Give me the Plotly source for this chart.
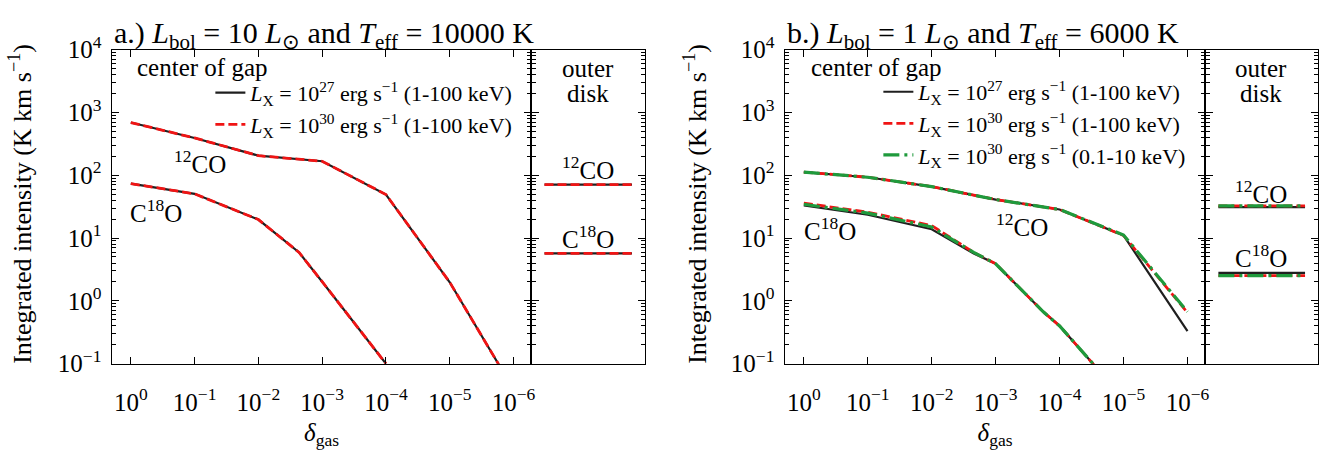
import plotly.graph_objects as go

# ---------------------------------------------------------------- data
# gas depletion factor in the gap (x) and integrated line intensity (K km/s)

# a.) Lbol = 10 Lsun, Teff = 10000 K
a_12co_delta = [1, 1e-1, 1e-2, 1e-3, 1e-4, 1e-5, 1e-6]
a_12co_lx27 = [690, 392, 205, 167, 49.4, 1.98, 0.039]
a_12co_lx30 = [690, 392, 205, 167, 49.4, 1.98, 0.039]
a_c18o_delta = [1, 1e-1, 1e-2, 2.3e-3, 1e-3, 1e-4]
a_c18o_lx27 = [73.6, 50.6, 19.7, 5.9, 2.02, 0.1]
a_c18o_lx30 = [73.6, 50.6, 19.7, 5.9, 2.02, 0.1]
a_outer_12co = [71, 71]        # Lx = 1e27, 1e30
a_outer_c18o = [5.7, 5.7]

# b.) Lbol = 1 Lsun, Teff = 6000 K
b_12co_delta = [1, 1e-1, 1e-2, 1e-3, 1e-4, 1e-5, 1e-6]
b_12co_lx27 = [112, 93, 66, 41, 28.5, 11, 0.33]
b_12co_lx30 = [112, 93, 66, 41, 28.5, 11, 0.65]
b_12co_lx30s = [112, 93, 66, 41, 28.5, 11.2, 0.67]
b_c18o_delta = [1, 1e-1, 1e-2, 2.2e-3, 1e-3, 1.8e-4, 1e-4, 1e-5]
b_c18o_lx27 = [33, 23.5, 13.8, 5.7, 3.9, 0.67, 0.40, 0.028]
b_c18o_lx30 = [36, 25.8, 15.8, 5.9, 3.9, 0.67, 0.40, 0.028]
b_c18o_lx30s = [34.5, 25, 15, 5.9, 3.9, 0.67, 0.40, 0.028]
b_outer_12co = [31, 32.5, 32.5]   # Lx = 1e27, 1e30 (1-100 keV), 1e30 (0.1-10 keV)
b_outer_c18o = [2.79, 2.52, 2.52]

x_tickvals = [1, 1e-1, 1e-2, 1e-3, 1e-4, 1e-5, 1e-6]
x_ticktext = ["10<sup>0</sup>", "10<sup>−1</sup>", "10<sup>−2</sup>", "10<sup>−3</sup>",
              "10<sup>−4</sup>", "10<sup>−5</sup>", "10<sup>−6</sup>"]
y_tickvals = [0.1, 1, 10, 100, 1000, 10000]
y_ticktext = ["10<sup>−1</sup>", "10<sup>0</sup>", "10<sup>1</sup>", "10<sup>2</sup>",
              "10<sup>3</sup>", "10<sup>4</sup>"]

legend_names = [
    "<i>L</i><sub>X</sub> = 10<sup>27</sup> erg s<sup>−1</sup> (1-100 keV)",
    "<i>L</i><sub>X</sub> = 10<sup>30</sup> erg s<sup>−1</sup> (1-100 keV)",
    "<i>L</i><sub>X</sub> = 10<sup>30</sup> erg s<sup>−1</sup> (0.1-10 keV)",
]
outer_span = [0, 1]

# ---------------------------------------------------------------- styles
FONT = "Liberation Serif"
W, H = 1337, 453
styles = [
    dict(color="#1f1f1f", width=2.2, dash="solid"),
    dict(color="#f01414", width=2.8, dash="9px,4px"),
    dict(color="#1f9a3c", width=3.2, dash="16px,5px,3px,5px"),
]

fig = go.Figure()


def add_line(x, y, style_idx, xa, ya, legend, show):
    fig.add_trace(go.Scatter(
        x=x, y=y, mode="lines", line=styles[style_idx],
        xaxis=xa, yaxis=ya, name=legend_names[style_idx],
        legend=legend, showlegend=show, hoverinfo="skip"))


# panel a
for i, (co, c18o) in enumerate([(a_12co_lx27, a_c18o_lx27), (a_12co_lx30, a_c18o_lx30)]):
    add_line(a_12co_delta, co, i, "x", "y", "legend", True)
    add_line(a_c18o_delta, c18o, i, "x", "y", "legend", False)
    add_line(outer_span, [a_outer_12co[i]] * 2, i, "x2", "y2", "legend", False)
    add_line(outer_span, [a_outer_c18o[i]] * 2, i, "x2", "y2", "legend", False)

# panel b
for i, (co, c18o) in enumerate([(b_12co_lx27, b_c18o_lx27), (b_12co_lx30, b_c18o_lx30),
                                 (b_12co_lx30s, b_c18o_lx30s)]):
    add_line(b_12co_delta, co, i, "x3", "y3", "legend2", True)
    add_line(b_c18o_delta, c18o, i, "x3", "y3", "legend2", False)
    add_line(outer_span, [b_outer_12co[i]] * 2, i, "x4", "y4", "legend2", False)
    add_line(outer_span, [b_outer_c18o[i]] * 2, i, "x4", "y4", "legend2", False)


# ---------------------------------------------------------------- axes
def px(v):
    return v / W


def py(v):
    return 1 - v / H


y_dom = [py(372), py(34)]
tickfont = dict(family=FONT, size=25, color="black")
common_line = dict(showline=True, linecolor="black", linewidth=1.4, showgrid=False,
                   zeroline=False)
minor = dict(ticks="inside", ticklen=4, tickwidth=1, tickcolor="black", dtick="D1",
             showgrid=False)


def main_x(dom, anchor):
    return dict(domain=dom, anchor=anchor, type="log", range=[0.3, -6.28],
                tickmode="array", tickvals=x_tickvals, ticktext=x_ticktext,
                ticks="inside", ticklen=7, tickwidth=1.2, tickcolor="black",
                mirror="ticks", tickfont=tickfont, ticklabelstandoff=16,
                title=dict(text="<i>δ</i><sub>gas</sub>", font=dict(family=FONT, size=25),
                           standoff=8),
                **common_line)


def main_y(anchor):
    return dict(domain=y_dom, anchor=anchor, type="log", range=[-1, 4],
                tickmode="array", tickvals=y_tickvals, ticktext=y_ticktext,
                ticks="inside", ticklen=7, tickwidth=1.2, tickcolor="black",
                mirror="ticks", tickfont=tickfont, ticklabelstandoff=4, minor=minor,
                **common_line)


def outer_x(dom, anchor):
    return dict(domain=dom, anchor=anchor, range=[-0.15, 1.15], showticklabels=False,
                ticks="", mirror=True, **common_line)


def outer_y(anchor):
    return dict(domain=y_dom, anchor=anchor, type="log", range=[-1, 4],
                tickmode="array", tickvals=y_tickvals, showticklabels=False,
                ticks="inside", ticklen=7, tickwidth=1.2, tickcolor="black",
                mirror="ticks", minor=minor, **common_line)


fig.update_layout(
    xaxis=main_x([px(112), px(533)], "y"),
    yaxis=main_y("x"),
    xaxis2=outer_x([px(533), px(647)], "y2"),
    yaxis2=outer_y("x2"),
    xaxis3=main_x([px(787), px(1209)], "y3"),
    yaxis3=main_y("x3"),
    xaxis4=outer_x([px(1209), px(1322)], "y4"),
    yaxis4=outer_y("x4"),
)

# ---------------------------------------------------------------- legends
leg_common = dict(xanchor="left", yanchor="top", bgcolor="rgba(0,0,0,0)",
                  font=dict(family=FONT, size=22, color="black"),
                  itemwidth=30, borderwidth=0)
fig.update_layout(
    legend=dict(x=px(211), y=py(58), **leg_common),
    legend2=dict(x=px(881), y=py(57), **leg_common),
)

# ---------------------------------------------------------------- text
ann = []


def text(x, y, s, size=24, xanchor="center", **kw):
    ann.append(dict(x=px(x), y=py(y), xref="paper", yref="paper", text=s, showarrow=False,
                    xanchor=xanchor, yanchor="middle",
                    font=dict(family=FONT, size=size, color="black"), **kw))


text(112, 18, "a.) <i>L</i><sub>bol</sub> = 10 <i>L</i><sub>⊙</sub> and "
              "<i>T</i><sub>eff</sub> = 10000 K", size=30, xanchor="left")
text(787, 18, "b.) <i>L</i><sub>bol</sub> = 1 <i>L</i><sub>⊙</sub> and "
              "<i>T</i><sub>eff</sub> = 6000 K", size=30, xanchor="left")

for left, outer_c in [(135, 590), (811, 1265)]:
    text(left, 53, "center of gap", xanchor="left", size=25)
    text(outer_c, 54, "outer", size=25)
    text(outer_c, 81, "disk", size=25)

text(201, 155, "<sup>12</sup>CO", size=25)
text(156, 208, "C<sup>18</sup>O", size=25)
text(590, 161, "<sup>12</sup>CO", size=25)
text(590, 236, "C<sup>18</sup>O", size=25)
text(832, 227, "C<sup>18</sup>O", size=25)
text(1025, 223, "<sup>12</sup>CO", size=25)
text(1265, 187, "<sup>12</sup>CO", size=25)
text(1265, 256, "C<sup>18</sup>O", size=25)

for xc in (21, 698):
    text(xc, 200, "Integrated intensity (K km s<sup>−1</sup>)", size=26, textangle=-90)

fig.update_layout(
    annotations=ann,
    width=W, height=H,
    margin=dict(l=0, r=0, t=0, b=0),
    paper_bgcolor="white", plot_bgcolor="white",
    font=dict(family=FONT, color="black"),
)

fig.write_html("out.html")
